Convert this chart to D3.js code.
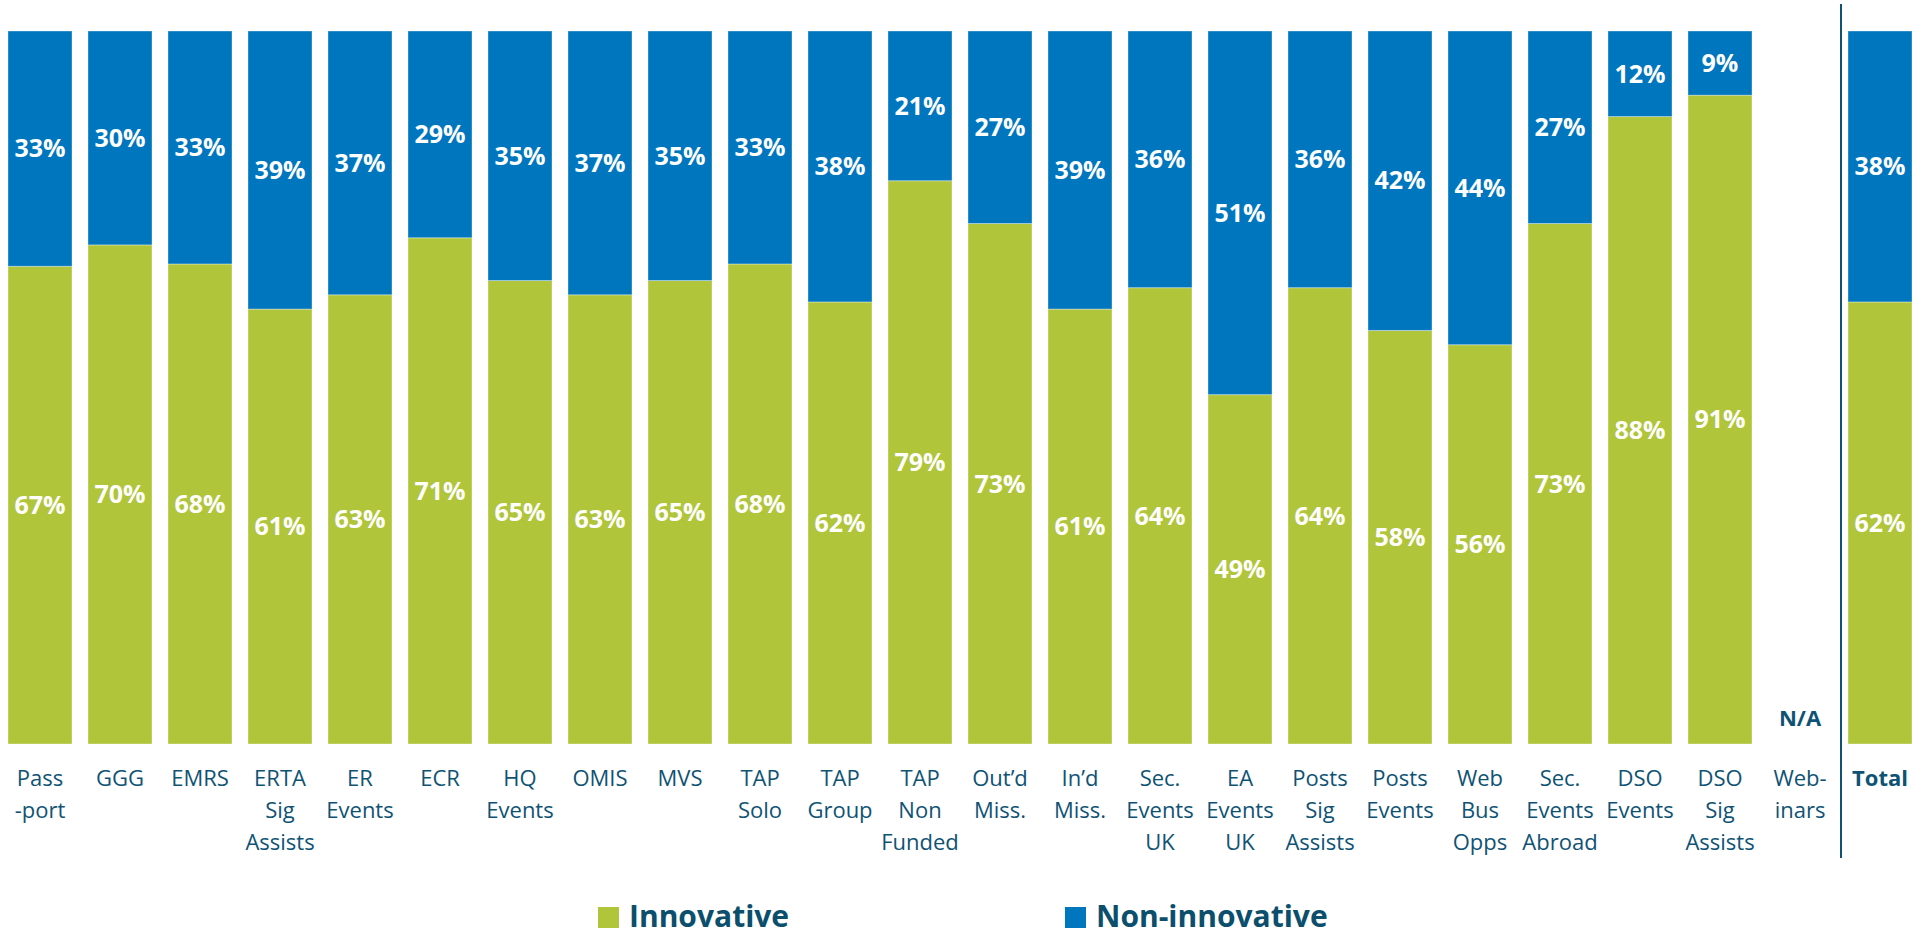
<!DOCTYPE html>
<html>
<head>
<meta charset="utf-8">
<script src="https://cdn.jsdelivr.net/npm/d3@7"></script>
<style>
  html, body { margin: 0; padding: 0; background: #ffffff; }
  svg { display: block; }
</style>
</head>
<body>
<svg id="chart" width="1913" height="938"></svg>
<script>
// Programme categories (line breaks marked with \n)
const categories = [
  "Pass\n-port", "GGG", "EMRS", "ERTA\nSig\nAssists", "ER\nEvents", "ECR",
  "HQ\nEvents", "OMIS", "MVS", "TAP\nSolo", "TAP\nGroup", "TAP\nNon\nFunded",
  "Out\u2019d\nMiss.", "In\u2019d\nMiss.", "Sec.\nEvents\nUK", "EA\nEvents\nUK",
  "Posts\nSig\nAssists", "Posts\nEvents", "Web\nBus\nOpps", "Sec.\nEvents\nAbroad",
  "DSO\nEvents", "DSO\nSig\nAssists", "Web-\ninars", "Total"
];

// Share of respondents (%), null where not available
const innovative = [67, 70, 68, 61, 63, 71, 65, 63, 65, 68, 62, 79, 73, 61, 64, 49, 64, 58, 56, 73, 88, 91, null, 62];
const nonInnovative = [33, 30, 33, 39, 37, 29, 35, 37, 35, 33, 38, 21, 27, 39, 36, 51, 36, 42, 44, 27, 12, 9, null, 38];

const seriesNames = ["Innovative", "Non-innovative"];
const colors = { "Innovative": "#b0c53a", "Non-innovative": "#0076be" };
const textColor = "#0f5374";
const totalKey = "Total";
const naText = "N/A";

const rows = categories.map((c, i) => ({
  category: c,
  "Innovative": innovative[i],
  "Non-innovative": nonInnovative[i],
  available: innovative[i] != null
}));

const svg = d3.select("#chart");

const x = d3.scaleBand()
  .domain(categories)
  .range([0, 1920])
  .paddingInner(0.2)
  .paddingOuter(0.1);

const y = d3.scaleLinear().domain([0, 1]).range([744, 31]);

// 100% stacked layout
const stack = d3.stack()
  .keys(seriesNames)
  .value((d, k) => d[k] == null ? 0 : d[k])
  .offset(d3.stackOffsetExpand);
const layers = stack(rows);

const g = svg.append("g");

layers.forEach(layer => {
  const key = layer.key;
  const lg = g.append("g").attr("class", "series");
  const segs = layer.filter(s => s.data.available);
  lg.selectAll("rect")
    .data(segs)
    .join("rect")
    .attr("x", s => x(s.data.category))
    .attr("width", x.bandwidth())
    .attr("y", s => y(s[1]))
    .attr("height", s => y(s[0]) - y(s[1]))
    .attr("fill", colors[key])
    .attr("stroke", "rgba(255,255,255,0.35)")
    .attr("stroke-width", 1);

  lg.selectAll("text")
    .data(segs)
    .join("text")
    .attr("x", s => x(s.data.category) + x.bandwidth() / 2)
    .attr("y", s => (y(s[0]) + y(s[1])) / 2)
    .attr("dy", "0.35em")
    .attr("text-anchor", "middle")
    .attr("fill", "#ffffff")
    .attr("font-family", "'Open Sans', sans-serif")
    .attr("font-weight", 700)
    .attr("font-size", 25)
    .text(s => s.data[key] + "%");
});

// N/A marker for categories without data
g.selectAll("text.na")
  .data(rows.filter(r => !r.available))
  .join("text")
  .attr("class", "na")
  .attr("x", r => x(r.category) + x.bandwidth() / 2)
  .attr("y", 726)
  .attr("text-anchor", "middle")
  .attr("fill", textColor)
  .attr("font-family", "'Open Sans', sans-serif")
  .attr("font-weight", 700)
  .attr("font-size", 22)
  .text(naText);

// Category labels
const xAxis = d3.axisBottom(x).tickSize(0).tickPadding(0).tickFormat("");
const axisG = svg.append("g").attr("transform", "translate(0,744)").call(xAxis);
axisG.select(".domain").remove();
axisG.selectAll(".tick").each(function(d) {
  const t = d3.select(this).append("text")
    .attr("text-anchor", "middle")
    .attr("fill", textColor)
    .attr("font-family", "'Open Sans', sans-serif")
    .attr("font-size", 22)
    .attr("font-weight", d === totalKey ? 700 : 400);
  d.split("\n").forEach((line, i) => {
    t.append("tspan").attr("x", 0).attr("y", 42 + i * 32).text(line);
  });
});

// Separator before the total bar
const lastIdx = categories.indexOf(totalKey);
const sepX = (x(categories[lastIdx - 1]) + x.bandwidth() + x(totalKey)) / 2 + 1;
svg.append("line")
  .attr("x1", sepX).attr("x2", sepX)
  .attr("y1", 4).attr("y2", 858)
  .attr("stroke", textColor)
  .attr("stroke-width", 2);

// Legend
const legendPos = [598, 1065];
const legend = svg.append("g");
seriesNames.forEach((name, i) => {
  const lx = legendPos[i];
  legend.append("rect")
    .attr("x", lx).attr("y", 907)
    .attr("width", 21).attr("height", 21)
    .attr("fill", colors[name]);
  legend.append("text")
    .attr("x", lx + 31).attr("y", 927)
    .attr("fill", "#0b4f6c")
    .attr("font-family", "'Open Sans', sans-serif")
    .attr("font-weight", 700)
    .attr("font-size", 30)
    .text(name);
});
</script>
</body>
</html>
